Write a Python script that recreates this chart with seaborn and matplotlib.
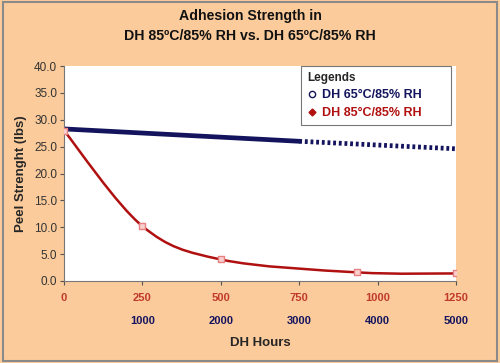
import numpy as np
import pandas as pd
import matplotlib
matplotlib.use("Agg")
import matplotlib.pyplot as plt
from matplotlib.path import Path
from matplotlib.patches import PathPatch, Rectangle
from matplotlib.lines import Line2D
import seaborn as sns

# datos
horas_85 = [0, 250, 500, 935, 1250]
peel_85 = [28.0, 10.2, 4.0, 1.6, 1.4]

horas_65 = [0, 3000]          # tramo medido (escala 0-5000)
peel_65 = [28.3, 26.0]
horas_65_proy = [3000, 5000]  # tramo extrapolado (punteado)
peel_65_proy = [26.0, 24.6]

ticks_85 = [0, 250, 500, 750, 1000, 1250]
ticks_65 = [1000, 2000, 3000, 4000, 5000]
ticks_y = [0, 5, 10, 15, 20, 25, 30, 35, 40]

ROJO = "#B01010"
AZUL = "#14145E"
FONDO = "#FBCB9B"

sns.set_style("white")
plt.rcParams["font.family"] = ["Liberation Sans", "DejaVu Sans"]

fig = plt.figure(figsize=(5.0, 3.63), dpi=100, facecolor=FONDO)
ax = fig.add_axes([0.128, 0.226, 0.784, 0.592])
fig.patches.append(Rectangle((0.006, 0.006), 0.988, 0.988, transform=fig.transFigure,
                             fill=False, edgecolor="#8a8a8a", linewidth=1.5))

# linea azul (DH 65C), escala de horas 4 veces la roja
d65 = pd.DataFrame({"x": np.array(horas_65) / 4, "y": peel_65})
d65p = pd.DataFrame({"x": np.array(horas_65_proy) / 4, "y": peel_65_proy})
sns.lineplot(data=d65, x="x", y="y", ax=ax, color=AZUL, linewidth=3.4)
sns.lineplot(data=d65p, x="x", y="y", ax=ax, color=AZUL, linewidth=3.4,
             linestyle=(0, (0.6, 0.6)))

# curva roja suavizada (bezier tipo Excel)
pts = np.column_stack([horas_85, peel_85]).astype(float)
verts = [tuple(pts[0])]
codes = [Path.MOVETO]
n = len(pts)
for i in range(n - 1):
    p0 = pts[i - 1] if i > 0 else pts[i]
    p1, p2 = pts[i], pts[i + 1]
    p3 = pts[i + 2] if i + 2 < n else pts[i + 1]
    c1 = p1 + (p2 - p0) / 6
    c2 = p2 - (p3 - p1) / 6
    verts += [tuple(c1), tuple(c2), tuple(p2)]
    codes += [Path.CURVE4] * 3
ax.add_patch(PathPatch(Path(verts, codes), facecolor="none", edgecolor=ROJO,
                       linewidth=1.8, zorder=3))
d85 = pd.DataFrame({"x": horas_85, "y": peel_85})
sns.scatterplot(data=d85, x="x", y="y", ax=ax, marker="s", s=22,
                facecolor="#F9D0D0", edgecolor="#E88080", linewidth=1, zorder=4)

ax.set_xlim(0, 1250)
ax.set_ylim(0, 40)
ax.set_yticks(ticks_y)
ax.set_yticklabels([f"{v:.1f}" for v in ticks_y], fontsize=8.5, color="#333333")
ax.set_xticks(ticks_85)
ax.set_xticklabels([str(v) for v in ticks_85], fontsize=8, color="#C0392B",
                   fontweight="bold")
ax.tick_params(axis="both", direction="out", length=3, width=0.8, colors="#555555",
               bottom=True, left=True)
ax.tick_params(axis="x", pad=6, labelcolor="#C0392B")
ax.tick_params(axis="y", pad=2, labelcolor="#333333")
for lado in ["top", "right"]:
    ax.spines[lado].set_visible(False)
for lado in ["left", "bottom"]:
    ax.spines[lado].set_color("#777777")
    ax.spines[lado].set_linewidth(0.8)

# segunda fila de etiquetas (horas DH 65C)
sec = ax.secondary_xaxis(-0.15, functions=(lambda x: x * 4, lambda x: x / 4))
sec.set_xticks(ticks_65)
sec.set_xticklabels([str(v) for v in ticks_65], fontsize=8, color=AZUL,
                    fontweight="bold")
sec.tick_params(length=0, pad=2)
sec.spines["bottom"].set_visible(False)

ax.set_xlabel("DH Hours", fontsize=9.5, fontweight="bold", labelpad=24)
ax.set_ylabel("Peel Strenght (lbs)", fontsize=9.5, fontweight="bold", labelpad=5)

fig.text(0.5, 0.955, "Adhesion Strength in", ha="center", va="center",
         fontsize=10.2, fontweight="bold", color="#111111")
fig.text(0.5, 0.9, "DH 85ºC/85% RH vs. DH 65ºC/85% RH", ha="center", va="center",
         fontsize=10.2, fontweight="bold", color="#111111")

manejadores = [
    Line2D([], [], marker="o", color=AZUL, markerfacecolor="white", markersize=4.5,
           linestyle="none", markeredgewidth=1),
    Line2D([], [], marker="D", color=ROJO, markersize=3.5, linestyle="none"),
]
leg = ax.legend(manejadores, ["DH 65°C/85% RH", "DH 85°C/85% RH"],
                title="Legends", loc="upper left",
                bbox_to_anchor=(0.605, 0.5, 0.382, 0.5), mode="expand",
                borderaxespad=0, alignment="left", fontsize=9, title_fontsize=8.5,
                frameon=True, fancybox=False, edgecolor="#555555",
                handletextpad=0.4, handlelength=0.8, borderpad=0.45,
                labelspacing=0.45)
leg.get_title().set_fontweight("bold")
leg.get_frame().set_linewidth(0.8)
leg.texts[0].set_color(AZUL)
leg.texts[1].set_color(ROJO)
for t in leg.texts:
    t.set_fontweight("bold")

fig.savefig("out.png", dpi=100, facecolor=FONDO)
